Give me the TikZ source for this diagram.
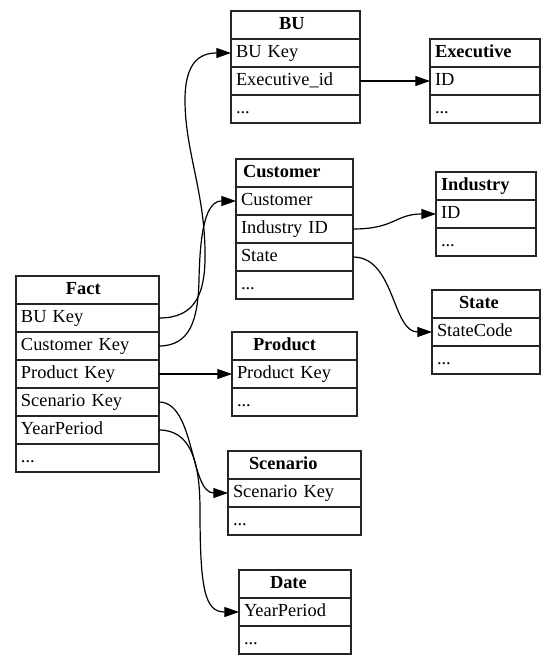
\documentclass[tikz,border=0pt]{standalone}
\usepackage{fontspec}
\setmainfont{Liberation Serif}
\usetikzlibrary{arrows.meta}

\tikzset{
  cell/.style={draw=black!85, line width=0.9pt, anchor=north west, inner xsep=3.75pt,
    inner ysep=0pt, outer sep=0pt, minimum height=21pt, text height=10pt, text depth=3pt,
    font=\fontsize{13.8pt}{16pt}\selectfont},
  hdr/.style 2 args={cell, font=\fontsize{13.8pt}{16pt}\selectfont\bfseries, align=left,
    text width=#1, execute at begin node={\hspace*{#2}}},
  fld/.style={cell, align=left, text width=#1},
  fk/.style={line width=0.9pt, -{Triangle[length=11pt,width=7.5pt]}}
}

\begin{document}
\begin{tikzpicture}[x=0.75pt, y=-0.75pt]
        \useasboundingbox (0,0) rectangle (556,664);
        % fact table
        \node[hdr={99.75pt}{33.75pt}] (fact) at (16,276) {Fact};
        \node[fld=99.75pt] (factbu) at (16,304) {BU Key};
        \node[fld=99.75pt] (factcust) at (16,332) {Customer Key};
        \node[fld=99.75pt] (factprod) at (16,360) {Product Key};
        \node[fld=99.75pt] (factscen) at (16,388) {Scenario Key};
        \node[fld=99.75pt] (factyear) at (16,416) {YearPeriod};
        \node[fld=99.75pt] (factmore) at (16,444) {...};
        % dimensions
        \node[hdr={89.25pt}{32.25pt}] (bu) at (231,11) {BU};
        \node[fld=89.25pt] (bukey) at (231,39) {BU Key};
        \node[fld=89.25pt] (buexec) at (231,67) {Executive\_id};
        \node[fld=89.25pt] (bumore) at (231,95) {...};
        \node[hdr={75pt}{0pt}] (exec) at (430,39) {Executive};
        \node[fld=75pt] (execid) at (430,67) {ID};
        \node[fld=75pt] (execmore) at (430,95) {...};
        \node[hdr={80.25pt}{1.5pt}] (cust) at (236,159) {Customer};
        \node[fld=80.25pt] (custcust) at (236,187) {Customer};
        \node[fld=80.25pt] (custind) at (236,215) {Industry ID};
        \node[fld=80.25pt] (custstate) at (236,243) {State};
        \node[fld=80.25pt] (custmore) at (236,271) {...};
        \node[hdr={67.5pt}{0pt}] (ind) at (436,172) {Industry};
        \node[fld=67.5pt] (indid) at (436,200) {ID};
        \node[fld=67.5pt] (indmore) at (436,228) {...};
        \node[hdr={73.5pt}{16.5pt}] (state) at (432,290) {State};
        \node[fld=73.5pt] (statecode) at (432,318) {StateCode};
        \node[fld=73.5pt] (statemore) at (432,346) {...};
        \node[hdr={86.25pt}{12pt}] (prod) at (232,332) {Product};
        \node[fld=86.25pt] (prodkey) at (232,360) {Product Key};
        \node[fld=86.25pt] (prodmore) at (232,388) {...};
        \node[hdr={92.25pt}{12pt}] (scen) at (228,451) {Scenario};
        \node[fld=92.25pt] (scenkey) at (228,479) {Scenario Key};
        \node[fld=92.25pt] (scenmore) at (228,507) {...};
        \node[hdr={76.5pt}{19.5pt}] (date) at (239,570) {Date};
        \node[fld=76.5pt] (dateyear) at (239,598) {YearPeriod};
        \node[fld=76.5pt] (datemore) at (239,626) {...};
        % keys
        \draw[fk] (factbu.east) .. controls (195,318) and (206,295) .. (205,250)
            .. controls (204,190) and (185,150) .. (185,100)
            .. controls (185,62) and (200,53) .. (bukey.west);
        \draw[fk] (factcust.east) .. controls (190,346) and (198,320) .. (199,280)
            .. controls (200,230) and (206,201) .. (custcust.west);
        \draw[fk] (buexec.east) -- (execid.west);
        \draw[fk] (custind.east) .. controls (395,229) and (395,214) .. (indid.west);
        \draw[fk] (custstate.east) .. controls (395,257) and (392,332) .. (statecode.west);
        \draw[fk] (factprod.east) -- (prodkey.west);
        \draw[fk] (factscen.east) .. controls (195,402) and (190,493) .. (scenkey.west);
        \draw[fk] (factyear.east) .. controls (190,430) and (200,460) .. (200,510)
            .. controls (200,590) and (205,612) .. (dateyear.west);
    \end{tikzpicture}
\end{document}
